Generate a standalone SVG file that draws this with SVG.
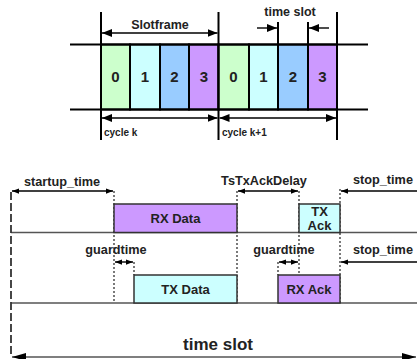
<svg xmlns="http://www.w3.org/2000/svg" width="417" height="359" viewBox="0 0 417 359">
  <defs>
    <marker id="ah" viewBox="0 0 10 8" refX="10" refY="4" markerWidth="10" markerHeight="8" markerUnits="userSpaceOnUse" orient="auto-start-reverse">
      <path d="M0,0 L10,4 L0,8 Z" fill="#000"/>
    </marker>
    <marker id="ahs" viewBox="0 0 8 6" refX="8" refY="3" markerWidth="7" markerHeight="6" markerUnits="userSpaceOnUse" orient="auto-start-reverse">
      <path d="M0,0 L8,3 L0,6 Z" fill="#000"/>
    </marker>
    <marker id="ahl" viewBox="0 0 14 8" refX="14" refY="4" markerWidth="14" markerHeight="8" markerUnits="userSpaceOnUse" orient="auto-start-reverse">
      <path d="M0,0 L14,4 L0,8 Z" fill="#000"/>
    </marker>
  </defs>
  <style>
    text { font-family: "Liberation Sans", Arial, sans-serif; font-weight: bold; fill: #222; }
    .digit { font-size: 15px; text-anchor: middle; }
    .lbl { font-size: 12.7px; text-anchor: middle; }
    .hdr { font-size: 12.5px; text-anchor: middle; }
    .boxl { font-size: 13px; text-anchor: middle; }
    .big { font-size: 17px; text-anchor: middle; }
    .frame { stroke: #000; stroke-width: 2; fill: none; }
    .thin { stroke: #000; stroke-width: 1.4; fill: none; }
    .base { stroke: #555; stroke-width: 1.6; fill: none; }
    .dot { stroke: #333; stroke-width: 1.3; stroke-dasharray: 2 2; fill: none; }
    .dash { stroke: #333; stroke-width: 1.8; stroke-dasharray: 8 3; fill: none; }
    .box { stroke: #333; stroke-width: 1.5; }
    .green { fill: #ccffcc; }
    .cyan { fill: #ccffff; }
    .blue { fill: #99ccff; }
    .purple { fill: #cc99ff; }
  </style>

  <!-- Slotframe: two cycles of four slots -->
  <g id="slot-k-0"><rect class="green frame" x="101" y="44.5" width="29" height="65"/><text class="digit" x="115.5" y="82">0</text></g>
  <g id="slot-k-1"><rect class="cyan frame" x="130" y="44.5" width="30" height="65"/><text class="digit" x="145" y="82">1</text></g>
  <g id="slot-k-2"><rect class="blue frame" x="160" y="44.5" width="29" height="65"/><text class="digit" x="174.5" y="82">2</text></g>
  <g id="slot-k-3"><rect class="purple frame" x="189" y="44.5" width="29.5" height="65"/><text class="digit" x="204" y="82">3</text></g>
  <g id="slot-k1-0"><rect class="green frame" x="218.5" y="44.5" width="30.5" height="65"/><text class="digit" x="233.5" y="82">0</text></g>
  <g id="slot-k1-1"><rect class="cyan frame" x="249" y="44.5" width="29" height="65"/><text class="digit" x="263.5" y="82">1</text></g>
  <g id="slot-k1-2"><rect class="blue frame" x="278" y="44.5" width="30" height="65"/><text class="digit" x="293" y="82">2</text></g>
  <g id="slot-k1-3"><rect class="purple frame" x="308" y="44.5" width="29" height="65"/><text class="digit" x="322.5" y="82">3</text></g>

  <g id="connectors">
    <!-- slotframe timeline rails -->
    <line class="frame" x1="70" y1="44.5" x2="368" y2="44.5"/>
    <line class="frame" x1="70" y1="109.5" x2="368" y2="109.5"/>
    <line class="frame" x1="101" y1="12" x2="101" y2="140"/>
    <line class="frame" x1="218.5" y1="12" x2="218.5" y2="140"/>
    <line class="frame" x1="337" y1="12" x2="337" y2="140"/>
    <line class="frame" x1="278" y1="22" x2="278" y2="44.5"/>
    <line class="frame" x1="308" y1="22" x2="308" y2="44.5"/>
    <!-- slotframe / cycle / time slot arrows -->
    <line class="thin" x1="102" y1="33" x2="217.5" y2="33" marker-start="url(#ah)" marker-end="url(#ah)"/>
    <line class="thin" x1="102" y1="118" x2="217.5" y2="118" marker-start="url(#ah)" marker-end="url(#ah)"/>
    <line class="thin" x1="219.5" y1="118" x2="336" y2="118" marker-start="url(#ah)" marker-end="url(#ah)"/>
    <line class="thin" x1="257" y1="28" x2="277" y2="28" marker-end="url(#ah)"/>
    <line class="thin" x1="329" y1="28" x2="309" y2="28" marker-end="url(#ah)"/>

    <!-- slot timing rails -->
    <line class="base" x1="11" y1="232.5" x2="417" y2="232.5"/>
    <line class="base" x1="11" y1="303" x2="417" y2="303"/>
    <line class="dash" x1="11" y1="192" x2="11" y2="357"/>
    <line class="dot" x1="114" y1="191" x2="114" y2="303"/>
    <line class="dot" x1="237" y1="191" x2="237" y2="303"/>
    <line class="dot" x1="299" y1="191" x2="299" y2="275"/>
    <line class="dot" x1="340" y1="189" x2="340" y2="303"/>
    <line class="dot" x1="134" y1="262" x2="134" y2="275"/>
    <line class="dot" x1="278" y1="262" x2="278" y2="275"/>
    <!-- timing arrows -->
    <line class="thin" x1="12" y1="191" x2="113" y2="191" marker-start="url(#ahs)" marker-end="url(#ahs)"/>
    <line class="thin" x1="238" y1="191" x2="298" y2="191" marker-start="url(#ahs)" marker-end="url(#ahs)"/>
    <line class="thin" x1="417" y1="191" x2="341" y2="191" marker-end="url(#ahs)"/>
    <line class="thin" x1="115" y1="262" x2="133" y2="262" marker-start="url(#ahs)" marker-end="url(#ahs)"/>
    <line class="thin" x1="279" y1="262" x2="298" y2="262" marker-start="url(#ahs)" marker-end="url(#ahs)"/>
    <line class="thin" x1="417" y1="262" x2="341" y2="262" marker-end="url(#ahs)"/>
    <line class="base" x1="12" y1="357" x2="416" y2="357" marker-start="url(#ahl)" marker-end="url(#ahl)"/>
  </g>

  <!-- slotframe labels -->
  <text class="hdr" x="160" y="29">Slotframe</text>
  <text class="hdr" x="290" y="16">time slot</text>
  <text x="104" y="136" style="font-size:10px">cycle k</text>
  <text x="222" y="136" style="font-size:10px">cycle k+1</text>

  <!-- transmission windows -->
  <g id="rx-data"><rect class="purple box" x="114" y="204" width="123" height="28.5"/><text class="boxl" x="175.5" y="223">RX Data</text></g>
  <g id="tx-ack"><rect class="cyan box" x="299" y="204" width="41" height="28.5"/><text class="boxl" x="319.5" y="216">TX</text><text class="boxl" x="319.5" y="229.5">Ack</text></g>
  <g id="tx-data"><rect class="cyan box" x="134" y="275" width="103" height="28"/><text class="boxl" x="185.5" y="294">TX Data</text></g>
  <g id="rx-ack"><rect class="purple box" x="278" y="275" width="62" height="28"/><text class="boxl" x="309" y="294">RX Ack</text></g>

  <!-- timing labels -->
  <text class="lbl" x="62" y="186">startup_time</text>
  <text class="lbl" x="264" y="185">TsTxAckDelay</text>
  <text class="lbl" x="383" y="184">stop_time</text>
  <text class="lbl" x="116" y="254">guardtime</text>
  <text class="lbl" x="284" y="254">guardtime</text>
  <text class="lbl" x="383" y="254">stop_time</text>
  <text class="big" x="218" y="350">time slot</text>
</svg>
